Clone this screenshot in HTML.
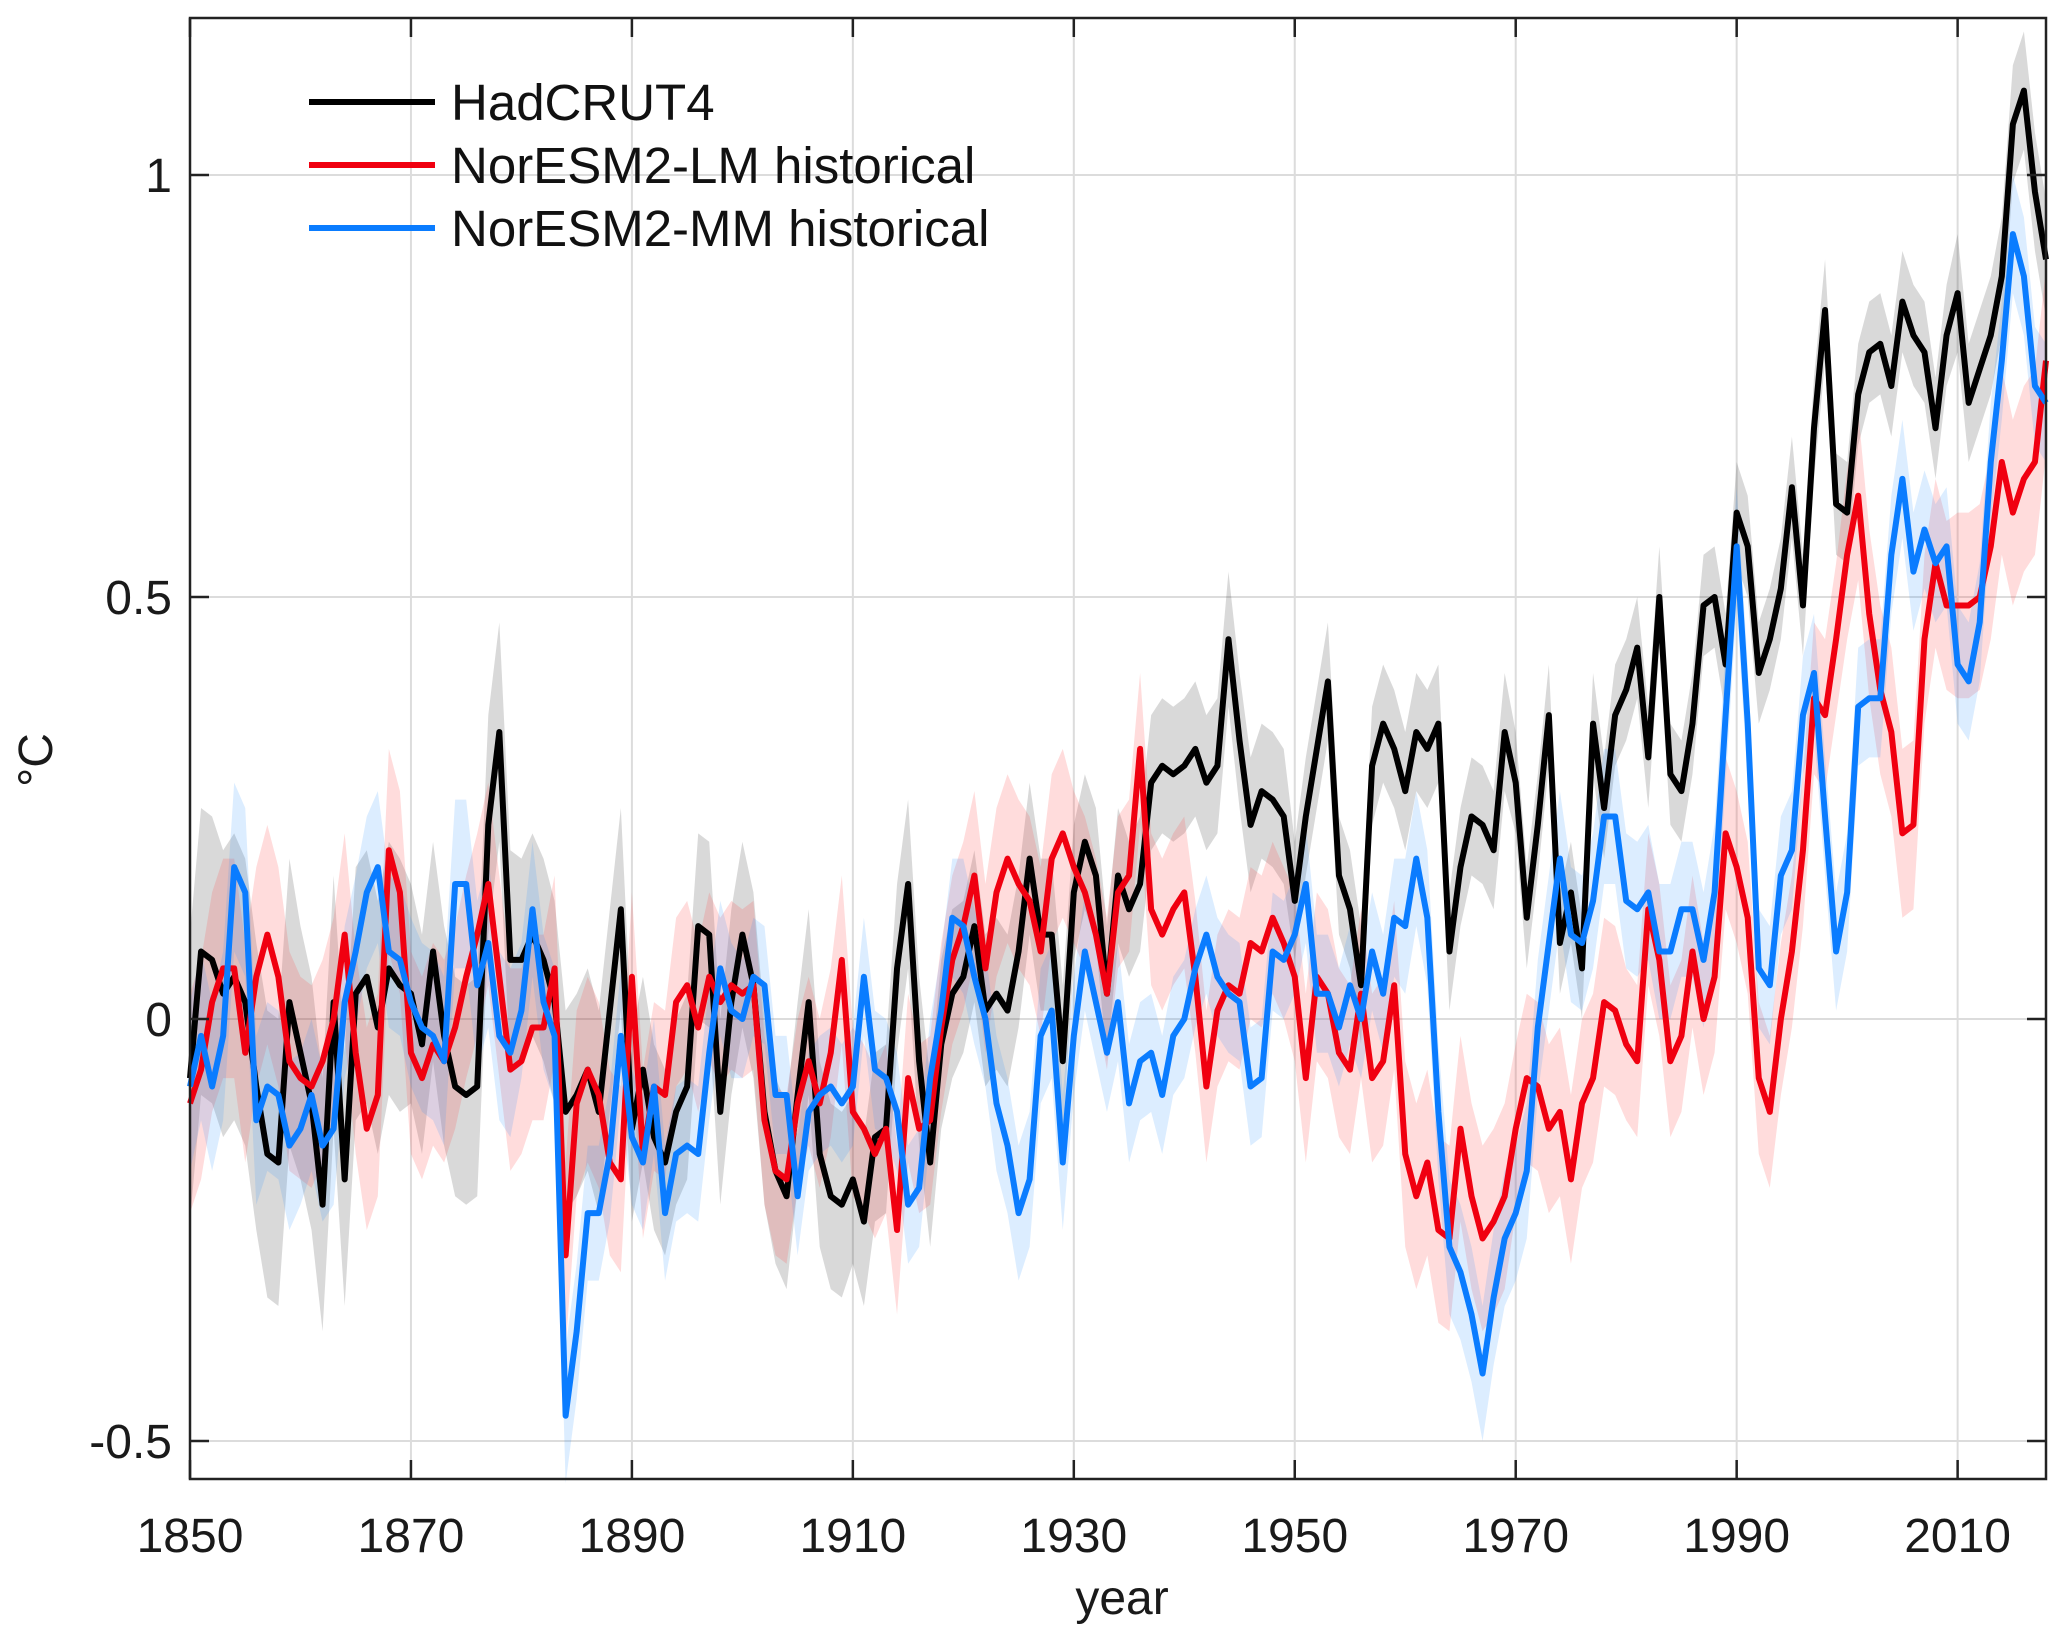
<!DOCTYPE html>
<html><head><meta charset="utf-8"><style>
html,body{margin:0;padding:0;background:#fff;}
svg{display:block;font-family:"Liberation Sans",Arial,sans-serif;}
</style></head><body>
<svg id="chart" width="2067" height="1643" viewBox="0 0 2067 1643" xmlns="http://www.w3.org/2000/svg">
<rect width="2067" height="1643" fill="#fff"/>
<g id="grid"></g>
<g id="bands"></g>
<g id="lines"></g>
<g id="axes"></g>
<g id="legend"></g>
<text x="0" y="0" transform="translate(52,760) rotate(-90)" text-anchor="middle" font-size="48" fill="#1a1a1a">°C</text>
<text x="1122" y="1614" text-anchor="middle" font-size="48" fill="#1a1a1a">year</text>
</svg>
<script>
const years = [];
for (let y = 1850; y <= 2018; y++) years.push(y);
const xTicks = [1850,1870,1890,1910,1930,1950,1970,1990,2010];
const yTicks = [-0.5,0,0.5,1];
const yTickLabels = ["-0.5","0","0.5","1"];
const hadcrut = [-0.07,0.08,0.07,0.03,0.05,0.02,-0.08,-0.16,-0.17,0.02,-0.04,-0.10,-0.22,0.02,-0.19,0.03,0.05,-0.01,0.06,0.04,0.03,-0.03,0.08,-0.02,-0.08,-0.09,-0.08,0.23,0.34,0.07,0.07,0.10,0.07,0.02,-0.11,-0.09,-0.06,-0.11,0.01,0.13,-0.13,-0.06,-0.14,-0.17,-0.11,-0.08,0.11,0.10,-0.11,0.02,0.10,0.04,-0.11,-0.18,-0.21,-0.09,0.02,-0.16,-0.21,-0.22,-0.19,-0.24,-0.14,-0.13,0.06,0.16,-0.05,-0.17,-0.03,0.03,0.05,0.11,0.01,0.03,0.01,0.08,0.19,0.10,0.10,-0.05,0.15,0.21,0.17,0.03,0.17,0.13,0.16,0.28,0.30,0.29,0.30,0.32,0.28,0.30,0.45,0.33,0.23,0.27,0.26,0.24,0.14,0.24,0.32,0.40,0.17,0.13,0.04,0.30,0.35,0.32,0.27,0.34,0.32,0.35,0.08,0.18,0.24,0.23,0.20,0.34,0.28,0.12,0.23,0.36,0.09,0.15,0.06,0.35,0.25,0.36,0.39,0.44,0.31,0.50,0.29,0.27,0.35,0.49,0.50,0.42,0.60,0.56,0.41,0.45,0.51,0.63,0.49,0.70,0.84,0.61,0.60,0.74,0.79,0.80,0.75,0.85,0.81,0.79,0.70,0.81,0.86,0.73,0.77,0.81,0.88,1.06,1.10,0.98,0.90];
const noresmLM = [-0.10,-0.06,0.02,0.06,0.06,-0.04,0.05,0.10,0.05,-0.05,-0.07,-0.08,-0.05,0.00,0.10,-0.04,-0.13,-0.09,0.20,0.15,-0.04,-0.07,-0.03,-0.05,-0.01,0.05,0.10,0.16,0.05,-0.06,-0.05,-0.01,-0.01,0.06,-0.28,-0.10,-0.06,-0.09,-0.17,-0.19,0.05,-0.16,-0.08,-0.09,0.02,0.04,-0.01,0.05,0.02,0.04,0.03,0.04,-0.12,-0.18,-0.19,-0.10,-0.05,-0.10,-0.04,0.07,-0.11,-0.13,-0.16,-0.13,-0.25,-0.07,-0.13,-0.12,-0.01,0.07,0.11,0.17,0.06,0.15,0.19,0.16,0.14,0.08,0.19,0.22,0.18,0.15,0.10,0.03,0.15,0.17,0.32,0.13,0.10,0.13,0.15,0.05,-0.08,0.01,0.04,0.03,0.09,0.08,0.12,0.09,0.05,-0.07,0.05,0.03,-0.04,-0.06,0.03,-0.07,-0.05,0.04,-0.16,-0.21,-0.17,-0.25,-0.26,-0.13,-0.21,-0.26,-0.24,-0.21,-0.13,-0.07,-0.08,-0.13,-0.11,-0.19,-0.10,-0.07,0.02,0.01,-0.03,-0.05,0.13,0.07,-0.05,-0.02,0.08,0.00,0.05,0.22,0.18,0.12,-0.07,-0.11,0.00,0.08,0.20,0.38,0.36,0.45,0.55,0.62,0.48,0.39,0.34,0.22,0.23,0.45,0.54,0.49,0.49,0.49,0.50,0.56,0.66,0.60,0.64,0.66,0.78];
const noresmMM = [-0.08,-0.02,-0.08,-0.02,0.18,0.15,-0.12,-0.08,-0.09,-0.15,-0.13,-0.09,-0.15,-0.13,0.02,0.08,0.15,0.18,0.08,0.07,0.02,-0.01,-0.02,-0.05,0.16,0.16,0.04,0.09,-0.02,-0.04,0.01,0.13,0.02,-0.02,-0.47,-0.37,-0.23,-0.23,-0.16,-0.02,-0.14,-0.17,-0.08,-0.23,-0.16,-0.15,-0.16,-0.04,0.06,0.01,0.00,0.05,0.04,-0.09,-0.09,-0.21,-0.11,-0.09,-0.08,-0.10,-0.08,0.05,-0.06,-0.07,-0.11,-0.22,-0.20,-0.07,0.01,0.12,0.11,0.05,0.00,-0.10,-0.15,-0.23,-0.19,-0.02,0.01,-0.17,-0.02,0.08,0.02,-0.04,0.02,-0.10,-0.05,-0.04,-0.09,-0.02,0.00,0.06,0.10,0.05,0.03,0.02,-0.08,-0.07,0.08,0.07,0.10,0.16,0.03,0.03,-0.01,0.04,0.00,0.08,0.03,0.12,0.11,0.19,0.12,-0.11,-0.27,-0.30,-0.35,-0.42,-0.33,-0.26,-0.23,-0.18,-0.01,0.09,0.19,0.10,0.09,0.14,0.24,0.24,0.14,0.13,0.15,0.08,0.08,0.13,0.13,0.07,0.15,0.36,0.56,0.35,0.06,0.04,0.17,0.20,0.36,0.41,0.24,0.08,0.15,0.37,0.38,0.38,0.55,0.64,0.53,0.58,0.54,0.56,0.42,0.40,0.47,0.66,0.78,0.93,0.88,0.75,0.73];
// band half-widths per decade (1850s ... 2010s)
const spreadHad = [0.17,0.15,0.13,0.12,0.11,0.11,0.10,0.09,0.08,0.08,0.07,0.07,0.06,0.06,0.06,0.06,0.07];
const spreadLM = [0.13,0.12,0.12,0.11,0.10,0.10,0.10,0.10,0.09,0.09,0.10,0.11,0.10,0.09,0.09,0.10,0.11];
const spreadMM = [0.10,0.09,0.10,0.08,0.08,0.07,0.07,0.08,0.07,0.07,0.07,0.08,0.08,0.08,0.07,0.07,0.07];

const X0 = 190, X1 = 2046, Y0 = 18, Y1 = 1479;
const xMin = 1850, xMax = 2018, yMin = -0.545, yMax = 1.186;
const sx = v => X0 + (v - xMin) / (xMax - xMin) * (X1 - X0);
const sy = v => Y1 - (v - yMin) / (yMax - yMin) * (Y1 - Y0);
const NS = "http://www.w3.org/2000/svg";
function mk(tag, attrs, parent) {
  const e = document.createElementNS(NS, tag);
  for (const k in attrs) e.setAttribute(k, attrs[k]);
  parent.appendChild(e);
  return e;
}
const grid = document.getElementById('grid');
xTicks.forEach(t => {
  const l = mk('line', {x1: sx(t), x2: sx(t), y1: Y0, y2: Y1, stroke: '#dcdcdc', 'stroke-width': 2}, grid);
  
  
});
yTicks.forEach(t => {
  const l = mk('line', {x1: X0, x2: X1, y1: sy(t), y2: sy(t), stroke: '#dcdcdc', 'stroke-width': 2}, grid);
  
  
});
const bands = document.getElementById('bands');
function band(vals, spread, color, name) {
  let up = [], lo = [];
  vals.forEach((v, i) => {
    const s = spread[Math.floor(i / 10)];
    up.push(sx(years[i]) + ',' + sy(v + s));
    lo.unshift(sx(years[i]) + ',' + sy(v - s));
  });
  const p = mk('polygon', {points: up.concat(lo).join(' '), fill: color}, bands);
  
  
}
band(hadcrut, spreadHad, 'rgba(0,0,0,0.15)', 'hadcrut4-band');
band(noresmLM, spreadLM, 'rgba(255,60,60,0.18)', 'noresm2-lm-band');
band(noresmMM, spreadMM, 'rgba(40,140,255,0.16)', 'noresm2-mm-band');
const lines = document.getElementById('lines');
function line(vals, color, name) {
  const pts = vals.map((v, i) => sx(years[i]) + ',' + sy(v)).join(' ');
  const p = mk('polyline', {points: pts, fill: 'none', stroke: color, 'stroke-width': 6, 'stroke-linejoin': 'round'}, lines);
  
  
}
line(hadcrut, '#000', 'hadcrut4-line');
line(noresmLM, '#f00010', 'noresm2-lm-line');
line(noresmMM, '#0a7cff', 'noresm2-mm-line');
const axes = document.getElementById('axes');
const box = mk('rect', {x: X0, y: Y0, width: X1 - X0, height: Y1 - Y0, fill: 'none', stroke: '#222', 'stroke-width': 2.5}, axes);


xTicks.forEach(t => {
  mk('line', {x1: sx(t), x2: sx(t), y1: Y1, y2: Y1 - 19, stroke: '#222', 'stroke-width': 2.5}, axes);
  mk('line', {x1: sx(t), x2: sx(t), y1: Y0, y2: Y0 + 19, stroke: '#222', 'stroke-width': 2.5}, axes);
  const tx = mk('text', {x: sx(t), y: 1552, 'text-anchor': 'middle', 'font-size': 48, fill: '#1a1a1a'}, axes);
  tx.textContent = t;
  
  
});
yTicks.forEach((t, i) => {
  mk('line', {x1: X0, x2: X0 + 19, y1: sy(t), y2: sy(t), stroke: '#222', 'stroke-width': 2.5}, axes);
  mk('line', {x1: X1, x2: X1 - 19, y1: sy(t), y2: sy(t), stroke: '#222', 'stroke-width': 2.5}, axes);
  const tx = mk('text', {x: 172, y: sy(t) + 17, 'text-anchor': 'end', 'font-size': 48, fill: '#1a1a1a'}, axes);
  tx.textContent = yTickLabels[i];
  
  
});
const legend = document.getElementById('legend');
const legNames = ["HadCRUT4", "NorESM2-LM historical", "NorESM2-MM historical"];
const legColors = ['#000', '#f00010', '#0a7cff'];
const legKeys = ['legend-entry-hadcrut4', 'legend-entry-noresm2-lm', 'legend-entry-noresm2-mm'];
legNames.forEach((n, i) => {
  const y = 102 + i * 63;
  const g = mk('g', {}, legend);
  
  
  mk('line', {x1: 309, x2: 435, y1: y, y2: y, stroke: legColors[i], 'stroke-width': 6}, g);
  const tx = mk('text', {x: 451, y: y + 18, 'font-size': 51, fill: '#111'}, g);
  tx.textContent = n;
});
</script>
</body></html>
